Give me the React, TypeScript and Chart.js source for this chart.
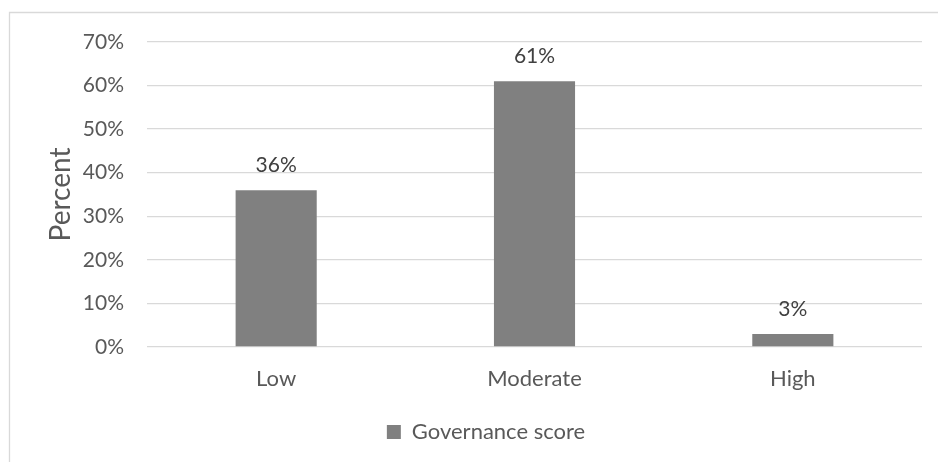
import React, { useEffect, useRef } from "react";
import { Chart, registerables } from "chart.js";

Chart.register(...registerables);

const categories = ["Low", "Moderate", "High"];
const governanceScore = [36, 61, 3];
const seriesName = "Governance score";
const yTicks = [0, 10, 20, 30, 40, 50, 60, 70];
const yTitle = "Percent";

const FONT = "Lato, 'Open Sans', sans-serif";

const backgroundPlugin = {
  id: "bgBorder",
  beforeDraw(chart: any) {
    const ctx = chart.ctx;
    ctx.save();
    ctx.fillStyle = "#ffffff";
    ctx.fillRect(0, 0, chart.width, chart.height);
    ctx.strokeStyle = "#d9d9d9";
    ctx.lineWidth = 1.3;
    ctx.beginPath();
    ctx.moveTo(9.5, chart.height);
    ctx.lineTo(9.5, 12.5);
    ctx.lineTo(chart.width, 12.5);
    ctx.stroke();
    ctx.restore();
  },
};

const dataLabelPlugin = {
  id: "dataLabels",
  afterDatasetsDraw(chart: any) {
    const ctx = chart.ctx;
    ctx.save();
    ctx.font = `21px ${FONT}`;
    ctx.fillStyle = "#404040";
    ctx.textAlign = "center";
    ctx.textBaseline = "alphabetic";
    chart.data.datasets.forEach((ds: any, di: number) => {
      const meta = chart.getDatasetMeta(di);
      meta.data.forEach((bar: any, i: number) => {
        ctx.fillText(`${ds.data[i]}%`, bar.x, bar.y - 18);
      });
    });
    ctx.restore();
  },
};

export default function App() {
  const ref = useRef<HTMLCanvasElement>(null);
  useEffect(() => {
    document.body.style.margin = "0";
    const chart = new Chart(ref.current as HTMLCanvasElement, {
      type: "bar",
      data: {
        labels: categories,
        datasets: [
          {
            label: seriesName,
            data: governanceScore,
            backgroundColor: "#808080",
            borderWidth: 0,
            categoryPercentage: 1,
            barPercentage: 0.314,
          },
        ],
      },
      options: {
        animation: false,
        responsive: false,
        layout: { padding: { top: 42, right: 16, bottom: 9, left: 50 } },
        plugins: {
          legend: {
            position: "bottom",
            labels: {
              boxWidth: 14,
              boxHeight: 14,
              padding: 10,
              color: "#595959",
              font: { family: FONT, size: 22 },
            },
          },
          tooltip: { enabled: false },
        },
        scales: {
          x: {
            grid: { display: false, drawTicks: false },
            border: { display: false },
            ticks: {
              color: "#595959",
              font: { family: FONT, size: 22 },
              padding: 19,
            },
            afterFit(scale: any) {
              scale.height = 64;
            },
          },
          y: {
            min: 0,
            max: 70,
            afterBuildTicks(scale: any) {
              scale.ticks = yTicks.map((v) => ({ value: v }));
            },
            grid: { color: "#d9d9d9", lineWidth: 1.3, drawTicks: false },
            border: { display: false },
            ticks: {
              color: "#595959",
              font: { family: FONT, size: 21 },
              padding: 23,
              callback: (v: any) => `${v}%`,
            },
            title: {
              display: true,
              text: yTitle,
              color: "#595959",
              font: { family: FONT, size: 28 },
              padding: { top: -6, bottom: 0 },
            },
            afterFit(scale: any) {
              scale.width = 97;
            },
          },
        },
      },
      plugins: [backgroundPlugin, dataLabelPlugin],
    });
    return () => chart.destroy();
  }, []);
  return (
    <div style={{ width: 938, height: 462 }}>
      <canvas ref={ref} width={938} height={462} />
    </div>
  );
}
